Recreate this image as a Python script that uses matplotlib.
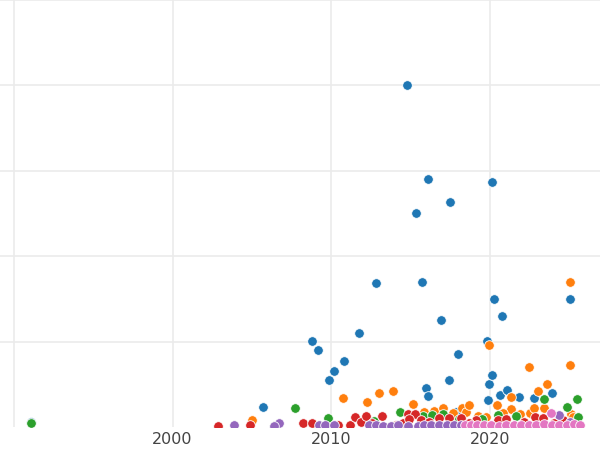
import matplotlib.pyplot as plt

# values (x = year, y = value)
blue_x = [1991.05, 2005.67, 2008.76, 2009.18, 2009.87, 2010.19, 2010.78, 2011.77, 2012.82,
          2014.79, 2015.34, 2015.72, 2015.97, 2016.12, 2016.10, 2016.94, 2017.44, 2017.51,
          2017.97, 2017.87, 2019.80, 2019.89, 2019.97, 2020.11, 2020.16, 2020.28, 2020.66,
          2020.77, 2021.10, 2021.84, 2022.78, 2023.90, 2025.08]
blue_y = [6.2, 22.9, 100.8, 89.9, 55.4, 65.6, 77.7, 110.2, 168.8,
          400.5, 250.5, 170.0, 46.1, 36.3, 290.4, 125.4, 55.1, 262.9,
          85.2, 17.9, 100.8, 31.1, 49.8, 287.2, 60.6, 150.0, 37.9,
          130.1, 43.4, 35.5, 33.8, 39.3, 150.0]

orange_x = [2005.02, 2010.71, 2012.24, 2013.00, 2013.90, 2015.13, 2015.87, 2016.50, 2017.02,
            2017.65, 2018.25, 2018.50, 2018.71, 2019.23, 2019.76, 2019.97, 2020.45, 2021.34,
            2021.34, 2022.54, 2022.49, 2022.81, 2023.06, 2023.39, 2023.63, 2025.02, 2025.02,
            2025.12, 2025.22, 2020.85, 2021.92]
orange_y = [8.2, 34.2, 28.7, 40.1, 42.5, 26.6, 17.2, 18.8, 22.6,
            16.8, 22.6, 17.9, 25.8, 12.9, 12.1, 96.5, 25.8, 35.5,
            20.7, 16.1, 70.3, 21.9, 41.6, 22.6, 50.4, 170.0, 72.7,
            14.9, 12.1, 16.4, 15.2]

green_x = [1991.05, 2006.40, 2007.74, 2009.78, 2012.67, 2014.33, 2015.76, 2016.33, 2017.07,
           2020.49, 2021.65, 2023.44, 2024.85, 2025.50, 2025.54, 2018.08, 2019.53]
green_y = [4.7, 1.2, 22.5, 10.2, 7.4, 17.9, 12.9, 14.1, 14.9,
           14.1, 12.9, 32.5, 23.1, 32.8, 11.4, 9.4, 9.4]

red_x = [2002.87, 2004.89, 2008.23, 2008.77, 2010.44, 2011.20, 2011.50, 2011.86, 2012.19,
         2012.57, 2013.20, 2014.54, 2014.86, 2015.30, 2014.92, 2015.66, 2016.81, 2017.44,
         2018.18, 2019.13, 2020.49, 2021.02, 2022.87, 2023.33, 2024.59, 2014.10, 2016.18,
         2018.70, 2022.18, 2024.07]
red_y = [0.6, 2.3, 4.7, 4.7, 1.8, 1.8, 11.7, 5.3, 12.9,
         4.7, 12.9, 5.0, 14.9, 14.9, 9.4, 8.2, 10.2, 10.5,
         10.5, 8.2, 8.2, 9.4, 11.4, 10.5, 8.2, 2.3, 5.9,
         4.7, 5.9, 4.7]

purple_x = [2003.90, 2006.72, 2006.40, 2009.24, 2009.60, 2010.16, 2012.40, 2012.82, 2013.24,
            2013.77, 2014.23, 2014.81, 2015.44, 2015.87, 2016.31, 2016.81, 2017.32, 2017.76,
            2018.20, 2024.38, 2025.02]
purple_y = [1.8, 4.1, 0.6, 2.3, 2.3, 1.8, 1.8, 2.3, 1.2,
            1.2, 2.3, 1.2, 1.5, 2.3, 1.8, 2.3, 1.8, 2.3,
            1.8, 14.1, 5.9]

pink_x = [2023.87, 2018.45, 2018.83, 2019.21, 2019.65, 2020.09, 2020.60, 2021.04, 2021.54,
          2021.99, 2022.49, 2022.93, 2023.44, 2023.94, 2024.38, 2024.89, 2025.33, 2025.71]
pink_y = [16.8, 2.3, 1.8, 2.9, 1.8, 2.3, 1.2, 2.9, 2.3,
          1.8, 2.9, 2.3, 3.5, 2.3, 2.9, 2.3, 3.5, 2.3]

series = [
    (blue_x, blue_y, "#1f77b4"),
    (orange_x, orange_y, "#ff7f0e"),
    (green_x, green_y, "#2ca02c"),
    (red_x, red_y, "#d62728"),
    (purple_x, purple_y, "#9467bd"),
    (pink_x, pink_y, "#e377c2"),
]

fig = plt.figure(figsize=(6, 4.5), dpi=100)
ax = fig.add_axes([0, 23 / 450, 1, 427 / 450])

for xs, ys, col in series:
    ax.scatter(xs, ys, s=48, color=col, edgecolors="white", linewidths=0.6, zorder=3)

ax.set_xlim(1989.12, 2026.94)
ax.set_ylim(0, 500)
ax.set_xticks([1990, 2000, 2010, 2020])
ax.set_xticklabels(["", "2000", "2010", "2020"])
ax.set_yticks([100, 200, 300, 400, 500])
ax.set_yticklabels([])
ax.tick_params(length=0, pad=3.5, labelsize=11.5, labelcolor="#444444")
ax.grid(True, color="#ebebeb", linewidth=1.2, zorder=0)
ax.set_axisbelow(True)
for sp in ax.spines.values():
    sp.set_visible(False)

fig.savefig("out.png", dpi=100)
